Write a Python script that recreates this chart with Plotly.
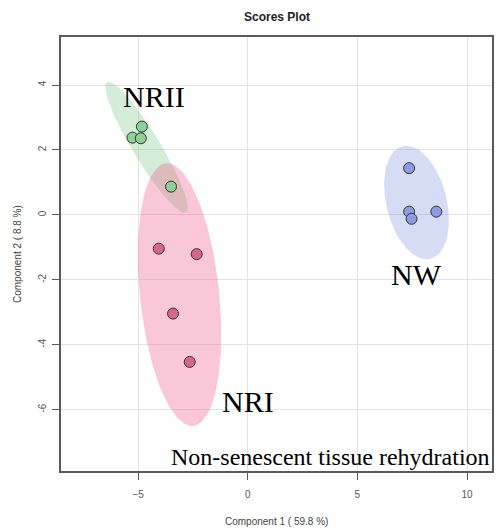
import numpy as np
import plotly.graph_objects as go

# Scores (Component 1, Component 2) per group
groups = ["NRII", "NRI", "NW"]
nrii_x = [-4.83, -5.26, -4.88, -3.50]
nrii_y = [2.72, 2.38, 2.36, 0.87]
nri_x = [-4.06, -2.33, -3.41, -2.65]
nri_y = [-1.04, -1.21, -3.04, -4.53]
nw_x = [7.36, 7.36, 7.47, 8.60]
nw_y = [1.44, 0.10, -0.12, 0.10]

x_ticks = [-5, 0, 5, 10]
y_ticks = [-6, -4, -2, 0, 2, 4]
y_tick_labels = ["-6", "-4", "-2", "0", "2", "4"]

title = "Scores Plot"
x_title = "Component 1 ( 59.8 %)"
y_title = "Component 2 ( 8.8 %)"

labels = ["NRII", "NW", "NRI"]
label_x = [-4.27, 7.68, 0.02]
label_y = [3.66, -1.85, -5.74]
caption = "Non-senescent tissue rehydration"

fill_cols = ["rgba(120,200,135,0.32)", "rgba(238,95,140,0.35)", "rgba(130,145,225,0.32)"]
mark_cols = ["#8fcf98", "#d8668a", "#8d9be0"]


def ellipse(xs, ys, n=120, level_scale=np.sqrt(5.991)):
    pts = np.column_stack([xs, ys])
    c = pts.mean(axis=0)
    cov = np.cov(pts.T)
    vals, vecs = np.linalg.eigh(cov)
    t = np.linspace(0, 2 * np.pi, n)
    circ = np.column_stack([np.cos(t), np.sin(t)]) * np.sqrt(vals) * level_scale
    e = circ @ vecs.T + c
    return e[:, 0], e[:, 1]


data = [(nrii_x, nrii_y), (nri_x, nri_y), (nw_x, nw_y)]
fig = go.Figure()
for (xs, ys), fc in zip(data, fill_cols):
    ex, ey = ellipse(xs, ys)
    fig.add_trace(go.Scatter(x=ex, y=ey, mode="lines", fill="toself",
                             fillcolor=fc, line=dict(width=0), hoverinfo="skip",
                             showlegend=False))
for (xs, ys), mc, g in zip(data, mark_cols, groups):
    fig.add_trace(go.Scatter(x=xs, y=ys, mode="markers", name=g, showlegend=False,
                             marker=dict(size=11, color=mc,
                                         line=dict(color="#333333", width=1))))

for t, x, y in zip(labels, label_x, label_y):
    fig.add_annotation(x=x, y=y, text=t, showarrow=False, xanchor="center", yanchor="middle",
                       font=dict(family="Liberation Serif", size=30, color="black"))
fig.add_annotation(x=11.0, y=-7.45, xshift=3.5, text=caption, showarrow=False, xanchor="right",
                   yanchor="middle", font=dict(family="Liberation Serif", size=24, color="black"))

fig.add_annotation(xref="paper", yref="paper", x=0.5, y=1, yshift=20, text="<b>" + title + "</b>",
                   showarrow=False, yanchor="middle",
                   font=dict(family="Liberation Sans", size=12, color="#222222"))
fig.add_annotation(xref="paper", yref="paper", x=0.5, y=0, yshift=-50, text=x_title,
                   showarrow=False, yanchor="middle",
                   font=dict(family="Liberation Sans", size=10, color="#444444"))
fig.add_annotation(xref="paper", yref="paper", x=0, y=0.5, xshift=-44, text=y_title,
                   showarrow=False, textangle=-90, xanchor="center",
                   font=dict(family="Liberation Sans", size=10, color="#444444"))

axis_common = dict(showline=True, linecolor="#5a5a5a", linewidth=2, mirror=True,
                   ticks="outside", ticklen=7, tickcolor="#5a5a5a", tickwidth=1,
                   showgrid=True, gridcolor="#e3e3e3", gridwidth=1, zeroline=False,
                   tickfont=dict(family="Liberation Sans", size=10, color="#555555"))
fig.update_xaxes(range=[-8.52, 11.14], tickvals=x_ticks, ticklabelstandoff=6, **axis_common)
fig.update_yaxes(range=[-7.89, 5.48], tickvals=y_ticks, ticktext=y_tick_labels,
                 tickangle=-90, ticklabelstandoff=2, **axis_common)

fig.update_layout(width=497, height=530, margin=dict(l=61, r=3, t=37, b=59),
                  plot_bgcolor="white", paper_bgcolor="white")

fig.write_html("out.html")
